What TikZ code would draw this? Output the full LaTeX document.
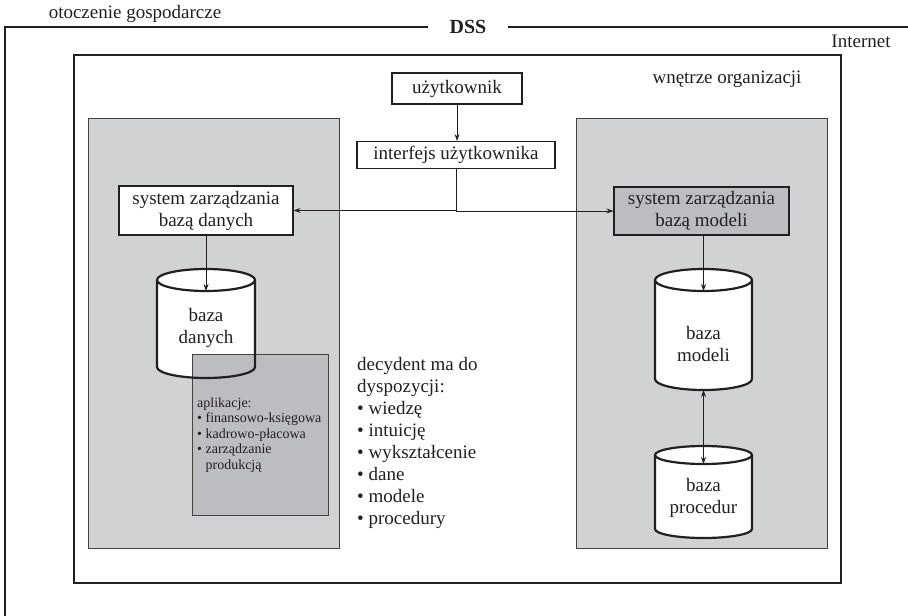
\documentclass[tikz,border=0pt]{standalone}
\usepackage{fontspec}
\setmainfont{Liberation Serif}
\usetikzlibrary{arrows.meta}
\definecolor{ink}{HTML}{231F20}
\definecolor{panelgray}{HTML}{D1D2D4}
\definecolor{deepgray}{HTML}{BCBDC0}

% cylinder body: #1 centre x, #2 top ellipse y, #3 bottom ellipse y, #4 x radius, #5 y radius
\newcommand\cylfillpath[5]{({#1-#4},#2) -- ({#1-#4},#3)
  arc[start angle=180,end angle=0,x radius=#4,y radius=#5]
  -- ({#1+#4},#2) arc[start angle=0,end angle=-180,x radius=#4,y radius=#5] -- cycle}
\newcommand\cyloutline[5]{({#1-#4},#2) -- ({#1-#4},#3)
  arc[start angle=180,end angle=0,x radius=#4,y radius=#5]
  -- ({#1+#4},#2) (#1,#2) ellipse[x radius=#4,y radius=#5]}

\begin{document}
\begin{tikzpicture}[x=1pt,y=-1pt,
  txt/.style={font=\fontsize{19}{22}\selectfont, text=ink, inner sep=0pt},
  apptxt/.style={font=\fontsize{14}{15.5}\selectfont, text=ink, inner sep=0pt, align=left},
  box/.style={txt, draw=ink, line width=1.1pt, fill=white, align=center},
  frame/.style={draw=ink, line width=1.5pt},
  panel/.style={fill=panelgray, draw=ink!85, line width=1pt},
  cylfill/.style={fill=white},
  cylline/.style={draw=ink, line width=2.2pt},
  arr/.style={draw=ink, line width=1pt, -{Stealth[length=7pt,width=5pt]}},
  biarr/.style={draw=ink, line width=1pt, {Stealth[length=7pt,width=5pt]}-{Stealth[length=7pt,width=5pt]}}
]
\useasboundingbox (0,0) rectangle (908,616);

% economic environment and the DSS frame
\node[txt] (env) at (135,14) {otoczenie gospodarcze};
\node[txt, font=\fontsize{20}{22}\selectfont\bfseries, inner xsep=21pt] (dss) at (468,27) {DSS};
\draw[frame] (5,616) -- (5,27) -- (dss.west);
\draw[frame] (dss.east) -- (908,27);
\node[txt] (net) at (861,41) {Internet};

% organisation interior
\draw[frame] (74,55) rectangle (841,583);
\node[txt] (org) at (727,79) {wnętrze organizacji};

% data and model panels
\draw[panel] (88,118) rectangle (339,548);
\draw[panel] (576,118) rectangle (827,548);

% user and interface
\node[box, minimum width=130, minimum height=31] (user) at (457,88.5) {użytkownik};
\node[box, minimum width=198, minimum height=27] (iface) at (456,155) {interfejs użytkownika};
\draw[arr] (user.south) -- (user.south |- iface.north);

% management systems
\node[box, minimum width=174, minimum height=49] (sysdb) at (206,210.5) {system zarządzania\\bazą danych};
\node[box, fill=deepgray, minimum width=175, minimum height=48] (sysmod) at (701.5,211) {system zarządzania\\bazą modeli};
\draw[arr] (iface.south) |- (sysdb.east);
\draw[arr] (iface.south) |- (sysmod.west);

% database cylinder with the applications box over it
\fill[cylfill] \cylfillpath{206}{280}{367}{49}{11};
\node[panel, fill=deepgray, anchor=north west, minimum width=136, minimum height=161, inner sep=0pt] (apps) at (192,354) {};
\draw[cylline] \cyloutline{206}{280}{367}{49}{11};
\node[txt, align=center] (bd) at (206,328) {baza\\danych};
\coordinate (bdtop) at (206,291);
\draw[arr] (sysdb.south) -- (bdtop);
\node[apptxt, anchor=west] (appstxt) at (197,435) {aplikacje:\\• finansowo-księgowa\\• kadrowo-płacowa\\• zarządzanie\\\phantom{• }produkcją};

% decision maker resources
\node[txt, align=left, anchor=west] (dec) at (357,442.5) {decydent ma do\\dyspozycji:\\• wiedzę\\• intuicję\\• wykształcenie\\• dane\\• modele\\• procedury};

% model base and procedure base
\fill[cylfill] \cylfillpath{703.5}{280}{379}{48.5}{11};
\draw[cylline] \cyloutline{703.5}{280}{379}{48.5}{11};
\node[txt, align=center] (bm) at (703.5,344) {baza\\modeli};
\coordinate (bmtop) at (703.5,291);
\coordinate (bmbot) at (703.5,390);
\draw[arr] (sysmod.south -| bmtop) -- (bmtop);

\fill[cylfill] \cylfillpath{703.5}{455}{529}{48.5}{9};
\draw[cylline] \cyloutline{703.5}{455}{529}{48.5}{9};
\node[txt, align=center] (bp) at (703.5,497.7) {baza\\procedur};
\coordinate (bptop) at (703.5,464);
\draw[biarr] (bmbot) -- (bptop);
\end{tikzpicture}
\end{document}
